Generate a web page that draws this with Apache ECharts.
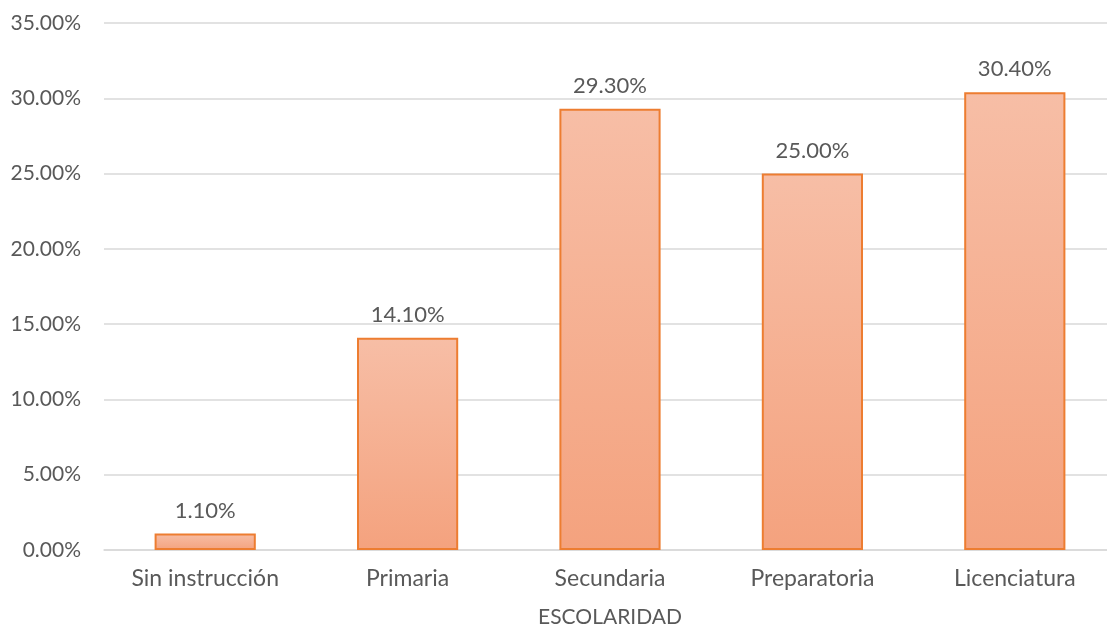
<!DOCTYPE html>
<html>
<head>
<meta charset="utf-8">
<script src="https://cdn.jsdelivr.net/npm/echarts@6/dist/echarts.min.js"></script>
<style>
  html, body { margin: 0; padding: 0; background: #fff; }
  #chart { width: 1107px; height: 630px; }
</style>
</head>
<body>
<div id="chart"></div>
<script>
// Education level categories and their share (%)
const categories = ['Sin instrucción', 'Primaria', 'Secundaria', 'Preparatoria', 'Licenciatura'];
const shares = [1.1, 14.1, 29.3, 25.0, 30.4];
const axisTitle = 'ESCOLARIDAD';

const textColor = '#595959';
const font = 'Lato, "Open Sans", sans-serif';

const chart = echarts.init(document.getElementById('chart'));
chart.setOption({
  animation: false,
  grid: {
    left: 104, right: -9, top: 23, bottom: 80,
    containLabel: false,
    outerBoundsMode: 'none'
  },
  xAxis: {
    type: 'category',
    data: categories,
    name: axisTitle,
    nameLocation: 'middle',
    nameGap: 57,
    nameTextStyle: { color: textColor, fontSize: 21, fontFamily: font },
    axisLine: { show: true, lineStyle: { color: '#d9d9d9', width: 1.5 } },
    axisTick: { show: false },
    axisLabel: { color: textColor, fontSize: 23, fontFamily: font, margin: 17 }
  },
  yAxis: {
    type: 'value',
    min: 0,
    max: 35,
    interval: 5,
    axisLine: { show: false },
    axisTick: { show: false },
    splitLine: { lineStyle: { color: '#d9d9d9', width: 1.5 } },
    axisLabel: {
      color: textColor, fontSize: 21, fontFamily: font, margin: 23,
      formatter: v => v.toFixed(2) + '%'
    }
  },
  series: [{
    type: 'bar',
    data: shares,
    barWidth: '50%',
    itemStyle: {
      color: new echarts.graphic.LinearGradient(0, 0, 0, 1, [
        { offset: 0, color: '#F7BEA6' },
        { offset: 1, color: '#F4A27E' }
      ]),
      borderColor: '#ED7D31',
      borderWidth: 2
    },
    label: {
      show: true,
      position: 'top',
      distance: 12,
      color: textColor,
      fontSize: 22,
      fontFamily: font,
      formatter: p => p.value.toFixed(2) + '%'
    }
  }]
});
</script>
</body>
</html>
